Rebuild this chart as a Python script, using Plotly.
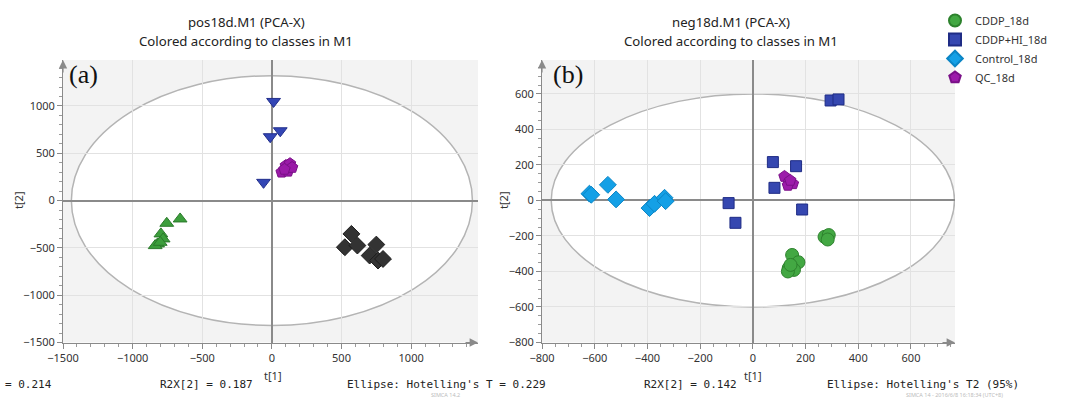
import plotly.graph_objects as go

W, H = 1079, 399

# ---------------- data: panel (a) pos18d ----------------
a_green_x = [-659, -755, -797, -781, -821, -838, -802]
a_green_y = [-194, -240, -352, -405, -458, -476, -441]
a_blue_x = [12, 60, -12, -60]
a_blue_y = [1048, 738, 675, 193]
a_dark_x = [571, 524, 614, 750, 702, 762, 798]
a_dark_y = [-352, -493, -475, -465, -581, -634, -617]
a_qc_x = [100, 130, 70, 115, 145, 90]
a_qc_y = [370, 390, 300, 310, 350, 330]

# ---------------- data: panel (b) neg18d ----------------
b_cddp_x = [272, 288, 284, 149, 173, 136, 156, 133, 143]
b_cddp_y = [-205, -195, -220, -307, -348, -381, -391, -400, -363]
b_hi_x = [76, 164, 82, 187, -92, -66, 295, 325]
b_hi_y = [216, 193, 71, -51, -15, -126, 563, 569]
b_ctrl_x = [-620, -613, -550, -519, -392, -373, -335, -331]
b_ctrl_y = [38, 32, 88, 6, -43, -19, 15, -4]
b_qc_x = [120, 137, 152, 133, 142]
b_qc_y = [135, 103, 94, 85, 113]

class_names = ["CDDP_18d", "CDDP+HI_18d", "Control_18d", "QC_18d"]

a_xticks = [-1500, -1000, -500, 0, 500, 1000]
a_yticks = [-1500, -1000, -500, 0, 500, 1000]
b_xticks = [-800, -600, -400, -200, 0, 200, 400, 600]
b_yticks = [-800, -600, -400, -200, 0, 200, 400, 600]

a_ellipse = (1440, 1320)
b_ellipse = (765, 600)


def px(x):
    return x / W


def py(y):
    return 1 - y / H


fig = go.Figure()


def mk(x, y, sym, size, fill, line, name, xa, ya, legend):
    fig.add_trace(go.Scatter(
        x=x, y=y, mode="markers", name=name, xaxis=xa, yaxis=ya,
        showlegend=legend,
        marker=dict(symbol=sym, size=size, color=fill,
                    line=dict(color=line, width=1))))


# panel a
mk(a_green_x, a_green_y, "triangle-up", 12, "#3c9e3c", "#2b7a2b", class_names[0], "x", "y", False)
mk(a_blue_x, a_blue_y, "triangle-down", 12, "#3346b5", "#222f8c", class_names[1], "x", "y", False)
mk(a_dark_x, a_dark_y, "diamond", 13, "#333333", "#1e1e1e", class_names[2], "x", "y", False)
mk(a_qc_x, a_qc_y, "pentagon", 12, "#9a1aa8", "#7a1088", class_names[3], "x", "y", False)
# panel b
mk(b_cddp_x, b_cddp_y, "circle", 13, "#43a843", "#2d822d", class_names[0], "x2", "y2", True)
mk(b_hi_x, b_hi_y, "square", 11, "#3547b0", "#1f2c85", class_names[1], "x2", "y2", True)
mk(b_ctrl_x, b_ctrl_y, "diamond", 13, "#14a0e6", "#0b85c5", class_names[2], "x2", "y2", True)
mk(b_qc_x, b_qc_y, "pentagon", 12, "#9c1caa", "#7a1088", class_names[3], "x2", "y2", True)

ydom = [py(342.5), py(60)]
tickfont = dict(family="Noto Sans", size=11, color="#333333")
common = dict(showgrid=True, gridcolor="#e2e2e2", gridwidth=1,
              zeroline=True, zerolinecolor="#8a8a8a", zerolinewidth=1.5,
              showline=True, linecolor="#8a8a8a", linewidth=1,
              ticks="outside", ticklen=5, tickcolor="#8a8a8a",
              tickfont=tickfont, fixedrange=True, automargin=False,
              minor=dict(ticks="outside", ticklen=3, tickcolor="#9a9a9a", showgrid=False))

fig.update_layout(
    width=W, height=H, autosize=False,
    margin=dict(l=0, r=0, t=0, b=0, autoexpand=False),
    paper_bgcolor="white", plot_bgcolor="#f3f3f3",
    xaxis=dict(domain=[px(63), px(478)], range=[-1500, 1480], tickvals=a_xticks,
               anchor="y", minor_dtick=100, **common),
    yaxis=dict(domain=ydom, range=[-1500, 1486], tickvals=a_yticks,
               anchor="x", minor_dtick=100, **common),
    xaxis2=dict(domain=[px(542), px(955)], range=[-800, 767], tickvals=b_xticks,
                anchor="y2", minor_dtick=50, **common),
    yaxis2=dict(domain=ydom, range=[-800, 791], tickvals=b_yticks,
                anchor="x2", minor_dtick=50, **common),
    legend=dict(x=px(935), y=py(6), xanchor="left", yanchor="top",
                font=dict(family="Noto Sans", size=11, color="#333333"),
                bgcolor="rgba(0,0,0,0)", tracegroupgap=0, itemsizing="constant"),
    showlegend=True,
)

# ellipses (white inside, gray outside)
for xr, yr, (ea, eb) in [("x", "y", a_ellipse), ("x2", "y2", b_ellipse)]:
    fig.add_shape(type="circle", xref=xr, yref=yr, x0=-ea, x1=ea, y0=-eb, y1=eb,
                  fillcolor="white", line=dict(color="#b4b4b4", width=1.5), layer="below")


def note(x, y, text, font, xanchor="center", **kw):
    return dict(x=px(x), y=py(y), text=text, showarrow=False, xref="paper", yref="paper",
                xanchor=xanchor, yanchor="middle", font=font, **kw)


ann = []
titlefont = dict(family="Noto Sans", size=13.2, color="#222222")
for cx, l1 in [(246, "pos18d.M1 (PCA-X)"), (731, "neg18d.M1 (PCA-X)")]:
    ann.append(note(cx, 22, l1, titlefont))
    ann.append(note(cx, 41, "Colored according to classes in M1", titlefont))
for lx, t in [(67, "(a)"), (551, "(b)")]:
    ann.append(note(lx, 74, t, dict(family="Liberation Serif", size=26, color="#111111"), xanchor="left"))
axfont = dict(family="Noto Sans", size=11, color="#333333")
for cx in [273, 753]:
    ann.append(note(cx, 375, "t[1]", axfont))
for cx in [18, 503]:
    ann.append(note(cx, 200, "t[2]", axfont, textangle=-90))
mono = dict(family="DejaVu Sans Mono", size=11, color="#222222")
for lx, t in [(4, "= 0.214"), (159, "R2X[2] = 0.187"), (346, "Ellipse: Hotelling's T = 0.229"),
              (643, "R2X[2] = 0.142"), (826, "Ellipse: Hotelling's T2 (95%)")]:
    ann.append(note(lx, 384.5, t, mono, xanchor="left", borderpad=0))
small = dict(family="Noto Sans", size=5.5, color="#bbbbbb")
ann.append(note(430, 394.8, "SIMCA 14.2", small, xanchor="left", borderpad=0))
ann.append(note(905, 394.8, "SIMCA 14 - 2016/6/8 16:18:34 (UTC+8)", small, xanchor="left", borderpad=0))
# axis arrows
for xr, yr, xend, ytop, xmin, ymin in [("x", "y", 1480, 1486, -1500, -1500), ("x2", "y2", 767, 791, -800, -800)]:
    ann.append(dict(x=xend, y=ymin, xref=xr, yref=yr, ax=-14, ay=0, text="", showarrow=True,
                    arrowhead=2, arrowsize=1.4, arrowwidth=1.2, arrowcolor="#8a8a8a"))
    ann.append(dict(x=xmin, y=ytop, xref=xr, yref=yr, ax=0, ay=14, text="", showarrow=True,
                    arrowhead=2, arrowsize=1.4, arrowwidth=1.2, arrowcolor="#8a8a8a"))

fig.update_layout(annotations=ann)
fig.write_html("out.html")
